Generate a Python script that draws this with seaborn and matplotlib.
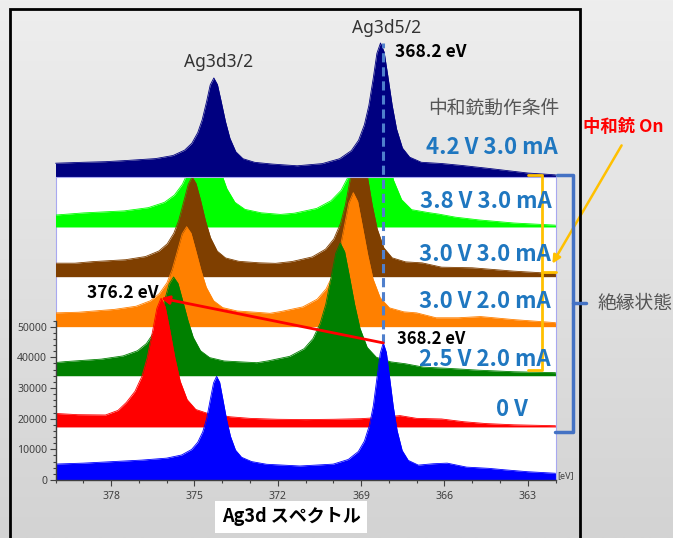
import numpy as np
import matplotlib
matplotlib.use("Agg")
import matplotlib.pyplot as plt
import seaborn as sns
from matplotlib.colors import LinearSegmentedColormap
from matplotlib.lines import Line2D
from matplotlib.patches import Rectangle, FancyArrowPatch
from matplotlib.ticker import FixedLocator

# ---------------- data (binding energy [eV], intensity relative to each trace's baseline) -------------
e_blue = [380.0, 379.0, 376.9, 376.0, 375.46, 375.1, 374.88, 374.7, 374.56, 374.43, 374.31, 374.2, 374.09,
          373.98, 373.84, 373.7, 373.52, 373.3, 372.94, 372.4, 371.2, 370.0, 369.46, 369.1, 368.88, 368.7,
          368.56, 368.43, 368.31, 368.2, 368.09, 367.98, 367.84, 367.7, 367.52, 367.3, 366.94, 366.4, 365.9,
          365.2, 364.4, 363.8, 363.0, 362.0]
i_blue = [5200, 5500, 6490, 7130, 8160, 9960, 12290, 15690, 20000, 26130, 31680, 33800, 31880, 26550, 19700,
          14220, 9760, 7410, 6010, 5130, 4570, 5180, 6700, 9270, 12680, 17820, 24150, 33150, 41290, 44700,
          41640, 33960, 23950, 16060, 9630, 6400, 4860, 5300, 5500, 4200, 3800, 3300, 2700, 2200]

e_red = [380.0, 379.2, 378.2, 377.75, 377.45, 377.14, 376.89, 376.7, 376.51, 376.35, 376.2, 376.05, 375.89,
         375.7, 375.51, 375.26, 374.95, 374.45, 373.7, 373.0, 372.0, 371.0, 370.0, 369.0, 368.3, 367.6, 367.0,
         366.1, 365.3, 364.5, 363.5, 362.0]
i_red = [4400, 4000, 3900, 5400, 8000, 11600, 16500, 22500, 31000, 38700, 42000, 39200, 31900, 22500, 14900,
         8900, 5700, 4200, 3300, 2800, 2500, 2400, 2500, 2700, 3100, 3700, 2800, 2600, 1700, 1100, 700, 400]

e_dgreen = [380.0, 379.65, 378.35, 377.57, 377.05, 376.73, 376.47, 376.27, 376.08, 375.91, 375.75, 375.59,
            375.43, 375.23, 375.04, 374.78, 374.45, 373.93, 373.15, 372.75, 372.35, 371.57, 371.05, 370.73,
            370.47, 370.27, 370.08, 369.91, 369.75, 369.59, 369.43, 369.23, 369.04, 368.78, 368.45, 367.93,
            367.4, 366.75, 365.85, 364.75, 363.5, 362.0]
i_dgreen = [4300, 4600, 5420, 6460, 8150, 10470, 13950, 18250, 24360, 29880, 32200, 30090, 24770, 17950, 12490,
            8150, 5910, 4810, 4430, 4250, 4840, 6320, 8820, 12140, 17140, 23300, 32060, 39980, 43300, 40420,
            32940, 23200, 15520, 9260, 6020, 4520, 3900, 2800, 2400, 1800, 1300, 1000]

e_orange = [380.0, 379.18, 377.88, 377.1, 376.58, 376.26, 375.99, 375.8, 375.61, 375.44, 375.28, 375.12, 374.96,
            374.76, 374.57, 374.31, 373.98, 373.46, 372.68, 372.28, 371.88, 371.1, 370.58, 370.26, 369.99,
            369.8, 369.61, 369.44, 369.28, 369.12, 368.96, 368.76, 368.57, 368.31, 367.98, 367.46, 367.0,
            366.3, 365.5, 364.7, 363.5, 362.0]
i_orange = [4500, 4700, 5630, 6660, 8460, 10790, 14290, 18600, 24730, 30280, 32600, 30480, 25150, 18300, 12820,
            8460, 6210, 5110, 4630, 4350, 4950, 6440, 8960, 12310, 17340, 23550, 32380, 40360, 43700, 40800,
            33160, 23450, 15610, 9410, 6140, 4830, 4500, 2900, 2900, 3300, 2300, 1300]

e_brown = [380.0, 379.3, 378.68, 377.48, 376.76, 376.28, 375.98, 375.74, 375.56, 375.38, 375.22, 375.08, 374.94,
           374.78, 374.6, 374.42, 374.18, 373.88, 373.4, 372.68, 372.08, 371.48, 370.76, 370.28, 369.98, 369.74,
           369.56, 369.38, 369.22, 369.08, 368.94, 368.78, 368.6, 368.42, 368.18, 367.88, 367.4, 366.8, 366.1,
           365.0, 363.5, 362.0]
i_brown = [4400, 4400, 4890, 5530, 6560, 8360, 10690, 14190, 18500, 24630, 30180, 32500, 30380, 25050, 18200,
           12720, 8360, 6110, 5010, 4530, 4350, 4950, 6440, 8960, 12310, 17340, 23550, 32380, 40360, 43700,
           40800, 33160, 23450, 15610, 9410, 6140, 4830, 4500, 3100, 2900, 1800, 1000]

e_green = [380.0, 378.98, 377.53, 376.66, 376.08, 375.72, 375.43, 375.21, 374.99, 374.8, 374.63, 374.46, 374.27,
           374.05, 373.83, 373.54, 373.18, 372.6, 371.9, 371.4, 370.6, 370.08, 369.72, 369.43, 369.21, 368.99,
           368.8, 368.63, 368.46, 368.27, 368.05, 367.83, 367.54, 367.18, 366.6, 366.2, 365.6, 364.75, 363.5,
           362.0]
i_green = [3900, 4600, 5250, 6300, 8030, 10400, 13960, 18350, 24590, 30230, 32600, 30450, 25020, 18050, 12480,
           8040, 5750, 4630, 4100, 4500, 6050, 8580, 11930, 16980, 23200, 32050, 40050, 43400, 40390, 32840,
           23000, 15240, 8920, 5650, 4730, 4200, 3200, 2300, 1300, 600]

e_navy = [380.0, 379.0, 378.2, 377.45, 376.4, 375.77, 375.35, 375.09, 374.88, 374.72, 374.56, 374.43, 374.3,
          374.17, 374.04, 373.88, 373.72, 373.51, 373.25, 372.83, 372.2, 371.3, 370.4, 369.77, 369.35, 369.09,
          368.88, 368.72, 368.56, 368.43, 368.3, 368.17, 368.04, 367.88, 367.72, 367.51, 367.25, 366.83, 366.1,
          365.3, 364.4, 363.0, 362.0]
i_navy = [4500, 4800, 5000, 5380, 6000, 7010, 8770, 11030, 14450, 18650, 24630, 30030, 32300, 30130, 24830,
          18050, 12610, 8250, 5960, 4790, 4220, 3660, 4360, 5970, 8600, 11970, 17050, 23300, 32290, 40330,
          43700, 40780, 33180, 23400, 15600, 9450, 6470, 4800, 4400, 3700, 2800, 1300, 700]

offsets = [0, 17300, 34000, 50000, 66300, 82500, 98800]
conditions = ["", "0 V", "2.5 V 2.0 mA", "3.0 V 2.0 mA", "3.0 V 3.0 mA", "3.8 V 3.0 mA", "4.2 V 3.0 mA"]
colors = ["#0000ff", "#ff0000", "#008000", "#ff8000", "#7f3f00", "#00ff00", "#000080"]
energies = [e_blue, e_red, e_dgreen, e_orange, e_brown, e_green, e_navy]
intens = [i_blue, i_red, i_dgreen, i_orange, i_brown, i_green, i_navy]

x_major = [378, 375, 372, 369, 366, 363]
y_major = [0, 10000, 20000, 30000, 40000, 50000]
ref_peak = 368.2
shift_peak = 376.2

# ---------------- figure ----------------
W, H = 673, 538
sns.set_theme(style="white")
plt.rcParams['font.family'] = ['Noto Sans', 'Noto Sans CJK JP', 'DejaVu Sans']
JP = ['Noto Sans CJK JP', 'DejaVu Sans']

fig = plt.figure(figsize=(W / 100, H / 100), dpi=100)


def fx(x):
    return x / W


def fy(y):
    return 1 - y / H


bg = fig.add_axes([0, 0, 1, 1], zorder=-10)
grad = np.linspace(0, 1, 256).reshape(-1, 1)
bg.imshow(grad, aspect='auto', cmap=LinearSegmentedColormap.from_list('g', ['#eeeeee', '#d3d3d3']),
          extent=[0, 1, 0, 1], origin='upper')
bg.set_axis_off()

ax = fig.add_axes([fx(55.5), fy(480), 500 / W, 303 / H])
ax.set_facecolor('white')

n = len(energies)
for k in range(n - 1, -1, -1):
    x = np.array(energies[k], dtype=float)
    y = np.array(intens[k], dtype=float) + offsets[k]
    z = 1.0 + (n - 1 - k) * 0.1
    clip = k != n - 1
    poly = ax.fill_between(x, offsets[k], y, color=colors[k], lw=0, zorder=z)
    poly.set_clip_on(clip)
    sns.lineplot(x=x, y=y, color=colors[k], lw=0.6, ax=ax, estimator=None, sort=False, zorder=z + 0.01)
    ax.lines[-1].set_clip_on(clip)

ax.set_xlim(380, 362)
ax.set_ylim(0, offsets[-1])
ax.set_xlabel('')
ax.set_ylabel('')

ax.xaxis.set_major_locator(FixedLocator(x_major))
ax.xaxis.set_minor_locator(FixedLocator(list(range(362, 381))))
ax.yaxis.set_major_locator(FixedLocator(y_major))
ax.yaxis.set_minor_locator(FixedLocator(list(range(0, 52001, 2000))))
ax.tick_params(axis='both', which='both', bottom=True, left=True, direction='out', color='#404040',
               labelcolor='#404040', labelsize=7.5, width=0.8)
ax.tick_params(axis='both', which='major', length=4)
ax.tick_params(axis='both', which='minor', length=2.5)
ax.tick_params(axis='x', pad=4)
ax.tick_params(axis='y', pad=2)

for s in ['top', 'right']:
    ax.spines[s].set_color('#a8a8f0')
    ax.spines[s].set_linewidth(0.8)
ax.spines['left'].set_bounds(0, 52000)
ax.spines['left'].set_color('#404040')
ax.spines['bottom'].set_color('#404040')
ax.spines['left'].set_linewidth(1)
ax.spines['bottom'].set_linewidth(1)
ax.plot([380, 380], [52000, offsets[-1]], color='#a8a8f0', lw=0.8, clip_on=False, zorder=0.5)

# reference dashed line and shift arrow
top_peak = offsets[-1] + max(i_navy)
ax.plot([ref_peak, ref_peak], [max(i_blue), top_peak], ls=(0, (3, 1.6)), color='#4f7fcc', lw=2.2,
        clip_on=False, zorder=4)
ax.annotate('', xy=(shift_peak, offsets[1] + max(i_red)), xytext=(ref_peak, max(i_blue)),
            arrowprops=dict(arrowstyle='-|>', color='red', lw=2, mutation_scale=12, shrinkA=0, shrinkB=0),
            annotation_clip=False, zorder=5)

# ---------------- texts ----------------
fig.text(fx(557), fy(476), '[eV]', fontsize=6.5, color='#404040', va='center')
fig.text(fx(219), fy(62), 'Ag3d3/2', fontsize=12.5, color='#333333', ha='center', va='center')
fig.text(fx(387), fy(28), 'Ag3d5/2', fontsize=12.5, color='#333333', ha='center', va='center')
fig.text(fx(395), fy(52), '368.2 eV', fontsize=12.5, fontweight='bold', color='black', va='center', family=JP)
fig.text(fx(428), fy(108), '中和銃動作条件', fontsize=13.5, color='#555555', va='center', family=JP)
fig.text(fx(583), fy(127), '中和銃 On', fontsize=12.5, fontweight='bold', color='#ff0000', va='center',
         family=JP)
fig.text(fx(598), fy(303), '絶縁状態', fontsize=13.5, color='#555555', va='center', family=JP)
fig.text(fx(87), fy(293), '376.2 eV', fontsize=12.5, fontweight='bold', color='black', va='center', family=JP)
fig.text(fx(397), fy(339), '368.2 eV', fontsize=12, fontweight='bold', color='black', va='center', family=JP)

label_pos = [None, (528, 410), (551, 359), (551, 302), (551, 254), (552, 202), (558, 147)]
for k in range(1, n):
    px, py = label_pos[k]
    fig.text(fx(px), fy(py), conditions[k], fontsize=16, fontweight='bold', color='#1f77c0',
             ha='right', va='center', family=JP)

fig.text(fx(291), fy(517), 'Ag3d スペクトル', fontsize=13, fontweight='bold', color='black', ha='center',
         va='center', family=JP, bbox=dict(boxstyle='square,pad=0.35', fc='white', ec='none'))


# ---------------- brackets, arrow, frame ----------------
def fline(xs, ys, **kw):
    fig.add_artist(Line2D([fx(v) for v in xs], [fy(v) for v in ys], transform=fig.transFigure, **kw))


fline([528, 542, 542, 528], [175, 175, 370, 370], color='#ffc000', lw=2, solid_joinstyle='round')
fline([542, 556], [272, 272], color='#ffc000', lw=2)
fline([557, 573, 573, 555], [175, 175, 432, 432], color='#4472c4', lw=2.5, solid_joinstyle='round')
fline([573, 586], [303, 303], color='#4472c4', lw=2.5)
fig.add_artist(FancyArrowPatch(posA=(fx(623), fy(143)), posB=(fx(551), fy(266)), transform=fig.transFigure,
                               arrowstyle='-|>', mutation_scale=12, color='#ffc000', lw=1.8))
fig.add_artist(Rectangle((fx(10), -0.05), fx(580) - fx(10), fy(9) + 0.05, transform=fig.transFigure,
                         fill=False, ec='black', lw=2))

fig.savefig('out.png', dpi=100)
